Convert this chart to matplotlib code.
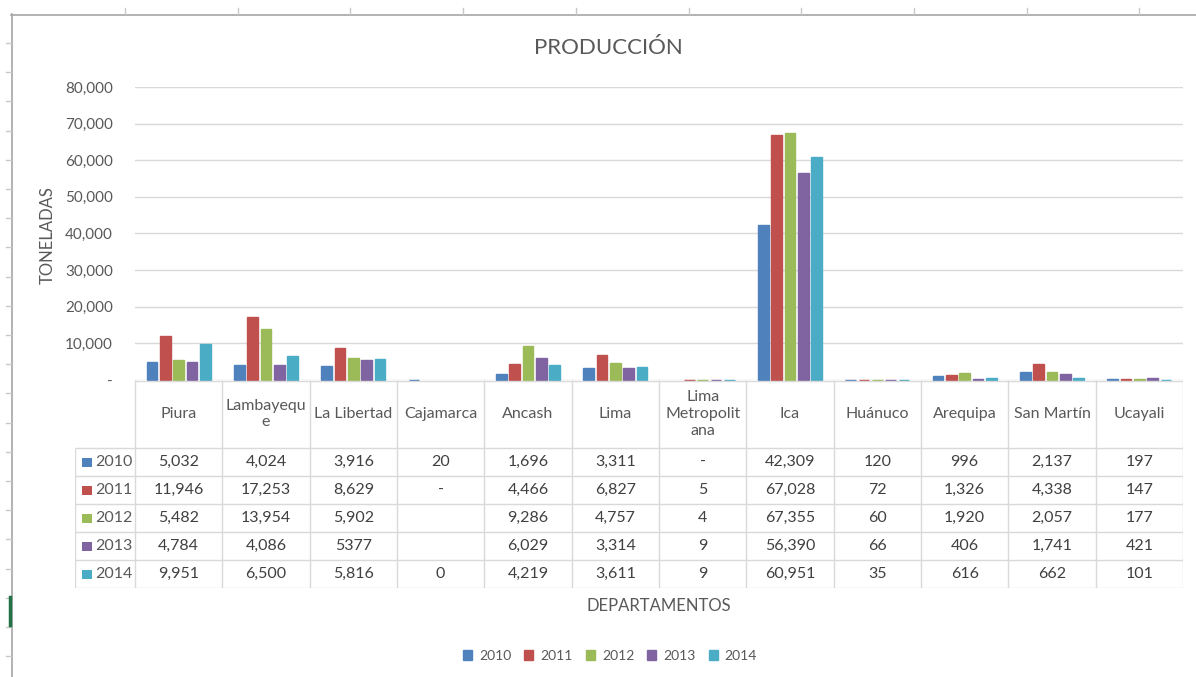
import matplotlib.pyplot as plt
import numpy as np
from matplotlib.lines import Line2D
from matplotlib.patches import Patch, Rectangle

plt.rcParams['font.family'] = ['Lato', 'DejaVu Sans']

W, H = 1196, 677

departamentos = ["Piura", "Lambayeque", "La Libertad", "Cajamarca", "Ancash", "Lima",
                 "Lima Metropolitana", "Ica", "Huánuco", "Arequipa", "San Martín", "Ucayali"]
# como se ven en la cabecera de la tabla (Excel corta las palabras)
cabecera = ["Piura", "Lambayequ\ne", "La Libertad", "Cajamarca", "Ancash", "Lima",
            "Lima\nMetropolit\nana", "Ica", "Huánuco", "Arequipa", "San Martín", "Ucayali"]

anios = ["2010", "2011", "2012", "2013", "2014"]
celdas_2010 = ["5,032", "4,024", "3,916", "20", "1,696", "3,311", "-", "42,309", "120", "996", "2,137", "197"]
celdas_2011 = ["11,946", "17,253", "8,629", "-", "4,466", "6,827", "5", "67,028", "72", "1,326", "4,338", "147"]
celdas_2012 = ["5,482", "13,954", "5,902", "", "9,286", "4,757", "4", "67,355", "60", "1,920", "2,057", "177"]
celdas_2013 = ["4,784", "4,086", "5377", "", "6,029", "3,314", "9", "56,390", "66", "406", "1,741", "421"]
celdas_2014 = ["9,951", "6,500", "5,816", "0", "4,219", "3,611", "9", "60,951", "35", "616", "662", "101"]
celdas = [celdas_2010, celdas_2011, celdas_2012, celdas_2013, celdas_2014]

colores = ["#4F81BD", "#C0504D", "#9BBB59", "#8064A2", "#4BACC6"]
gris_txt = "#595959"
gris_lin = "#D9D9D9"
fs = 11.5


def a_numero(s):
    if s == "":
        return np.nan
    if s == "-":
        return 0.0
    return float(s.replace(",", ""))


valores = [np.array([a_numero(s) for s in fila]) for fila in celdas]


def fx(px):
    return px / W


def fy(py):
    return 1 - py / H


fig = plt.figure(figsize=(W / 100, H / 100), dpi=100)

# area del grafico
x0, x1, y_top, y0 = 135, 1183, 87, 380
ax = fig.add_axes([fx(x0), fy(y0), fx(x1 - x0), (y0 - y_top) / H])
n = len(departamentos)
x = np.arange(n)
ancho = 0.122
paso = 0.153
for j, (anio, v) in enumerate(zip(anios, valores)):
    ok = np.nan_to_num(v) > 0
    ax.bar(x[ok] + (j - 2) * paso, v[ok], width=ancho, color=colores[j],
           edgecolor=colores[j], linewidth=1.0, zorder=3, clip_on=False)

ax.set_xlim(-0.5, n - 0.5)
ax.set_ylim(0, 80000)
ax.set_yticks(np.arange(0, 80001, 10000))
ax.yaxis.set_major_formatter(lambda v, p: "-" if v == 0 else f"{v:,.0f}")
ax.tick_params(axis='y', length=0, pad=16, labelsize=fs - 0.5, labelcolor=gris_txt)
ax.set_xticks([])
ax.grid(axis='y', color=gris_lin, linewidth=1, zorder=0)
for s in ax.spines.values():
    s.set_visible(False)

fig.text(fx(48), fy(235), "TONELADAS", rotation=90, ha='center', va='center',
         fontsize=fs + 0.5, color=gris_txt)
fig.text(fx(608), fy(48), "PRODUCCIÓN", ha='center', va='center', fontsize=16, color=gris_txt)

# tabla de datos
colw = (x1 - x0) / n
t_left = 75
t_bot = 588
tax = fig.add_axes([fx(t_left), fy(t_bot), fx(x1 - t_left), (t_bot - y0) / H])
tax.axis('off')
xl = -0.5 - (x0 - t_left) / colw
tax.set_xlim(xl, n - 0.5)
tax.set_ylim(t_bot - y0, 0)

h_cab = 68
h_fila = 28
lc = dict(color=gris_lin, linewidth=1, solid_capstyle='butt')
tax.plot([-0.5, n - 0.5], [0.5, 0.5], **lc)
for i in range(n + 1):
    tax.plot([i - 0.5, i - 0.5], [0, t_bot - y0], **lc)
tax.plot([xl, xl], [h_cab, t_bot - y0], **lc)
for k in range(len(anios) + 1):
    yy = h_cab + k * h_fila
    tax.plot([xl, n - 0.5], [yy, yy], **lc)

for i, lab in enumerate(cabecera):
    tax.text(i, h_cab / 2, lab, ha='center', va='center', fontsize=fs,
             color=gris_txt, linespacing=1.25)

for k, anio in enumerate(anios):
    yc = h_cab + k * h_fila + h_fila / 2
    tax.add_patch(Rectangle((xl + 7 / colw, yc - 4.5), 9.5 / colw, 9,
                            color=colores[k], linewidth=0))
    tax.text(xl + 20 / colw, yc, anio, ha='left', va='center', fontsize=fs, color=gris_txt)
    for i, s in enumerate(celdas[k]):
        tax.text(i, yc, s, ha='center', va='center', fontsize=fs, color="#404040")

fig.text(fx(659), fy(606), "DEPARTAMENTOS", ha='center', va='center', fontsize=fs + 0.5,
         color=gris_txt)

handles = [Patch(color=c, label=a) for c, a in zip(colores, anios)]
fig.legend(handles=handles, loc='center', bbox_to_anchor=(fx(610), fy(656)), ncol=5,
           frameon=False, fontsize=10, handlelength=0.65, handleheight=0.65,
           handletextpad=0.5, columnspacing=0.95, labelcolor=gris_txt)

# restos de la hoja de Excel alrededor del grafico
fig.add_artist(Line2D([fx(11), 1], [fy(14.5), fy(14.5)], transform=fig.transFigure,
                      color="#A6A6A6", linewidth=1.2))
fig.add_artist(Line2D([fx(11.5), fx(11.5)], [fy(14), 0], transform=fig.transFigure,
                      color="#A6A6A6", linewidth=1.2))
for px in np.arange(125, W, 112.7):
    fig.add_artist(Line2D([fx(px), fx(px)], [fy(8), fy(14)], transform=fig.transFigure,
                          color="#C8C8C8", linewidth=1))
for py in np.arange(43, H, 29.2):
    fig.add_artist(Line2D([fx(6), fx(11)], [fy(py), fy(py)], transform=fig.transFigure,
                          color="#C8C8C8", linewidth=1))
fig.add_artist(Line2D([fx(9.5), fx(9.5)], [fy(597), fy(625)], transform=fig.transFigure,
                      color="#217346", linewidth=2.5))

fig.savefig("out.png", dpi=100)
